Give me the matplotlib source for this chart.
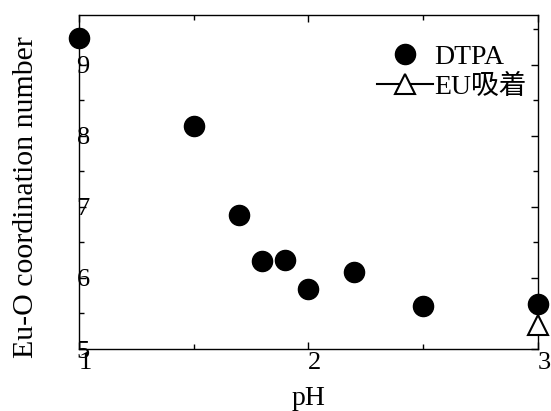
import matplotlib
matplotlib.use("Agg")
import matplotlib.pyplot as plt
from matplotlib.ticker import MultipleLocator

plt.rcParams['font.family'] = ['Liberation Serif', 'Noto Sans CJK JP']
plt.rcParams['mathtext.fontset'] = 'stix'

# Data
dtpa_ph = [1.0, 1.5, 1.7, 1.8, 1.9, 2.0, 2.2, 2.5, 3.0]
dtpa_cn = [9.38, 8.14, 6.88, 6.24, 6.25, 5.85, 6.08, 5.61, 5.64]
eu_ph = [3.0]
eu_cn = [5.34]
x_ticks = [1, 2, 3]
y_ticks = [5, 6, 7, 8, 9]
x_tick_labels = ['1', '2', '3']
y_tick_labels = ['5', '6', '7', '8', '9']
series_labels = ['DTPA', 'EU吸着']
x_label = 'pH'
y_label = 'Eu-O coordination number'

fig = plt.figure(figsize=(5.51, 4.11), dpi=100)
ax = fig.add_axes([79/551, 1-349/411, (537.5-79)/551, (349-15)/411])

ax.plot(dtpa_ph, dtpa_cn, linestyle='none', marker='o', markersize=14.5,
        color='black', clip_on=False, zorder=3, label=series_labels[0])
ax.plot(eu_ph, eu_cn, linestyle='-', linewidth=1.5, marker='^', markersize=14,
        markerfacecolor='white', markeredgecolor='black', markeredgewidth=1.5,
        color='black', clip_on=False, zorder=4, label=series_labels[1])

ax.set_xlim(1, 3)
ax.set_ylim(5, 9.7)

ax.set_xticks(x_ticks, x_tick_labels, ha='left')
ax.set_yticks(y_ticks, y_tick_labels, ha='center')
ax.xaxis.set_minor_locator(MultipleLocator(0.5))
ax.yaxis.set_minor_locator(MultipleLocator(0.5))

ax.tick_params(which='both', direction='in', top=True, right=True, width=1,
               color='black')
ax.tick_params(which='major', length=5)
ax.tick_params(which='minor', length=3.6)
ax.tick_params(axis='x', which='major', labelsize=19, pad=2)
ax.tick_params(axis='y', which='major', labelsize=19, pad=-3)

for s in ax.spines.values():
    s.set_linewidth(1)
    s.set_color('black')

ax.set_xlabel(x_label, fontsize=20)
ax.xaxis.set_label_coords(0.5, -0.111)
ax.set_ylabel(y_label, fontsize=21.5)
ax.yaxis.set_label_coords(-0.087, 0.455)

leg = ax.legend(loc='upper left', bbox_to_anchor=(0.650, 0.912), frameon=False,
                fontsize=20, numpoints=1, handlelength=2.0, handletextpad=0.05,
                labelspacing=0.15, borderpad=0, borderaxespad=0)

fig.savefig('out.png', dpi=100)
